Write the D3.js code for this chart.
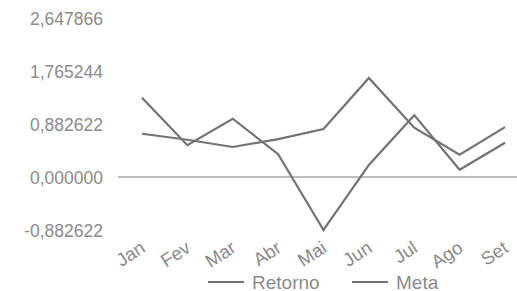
<!DOCTYPE html>
<html>
<head>
<meta charset="utf-8">
<script src="https://cdn.jsdelivr.net/npm/d3@7"></script>
<style>
  html, body { margin: 0; padding: 0; background: #ffffff; }
  svg { display: block; }
  text { font-family: "Liberation Sans", Arial, sans-serif; }
</style>
</head>
<body>
<svg id="chart" width="517" height="291"></svg>
<script>
const months = ["Jan", "Fev", "Mar", "Abr", "Mai", "Jun", "Jul", "Ago", "Set"];
const retorno = [1.32, 0.53, 0.97, 0.38, -0.882622, 0.20, 1.03, 0.12, 0.57];
const meta = [0.72, 0.62, 0.50, 0.63, 0.80, 1.65, 0.82, 0.37, 0.83];
const yTicks = [-0.882622, 0, 0.882622, 1.765244, 2.647866];
const yTickLabels = ["-0,882622", "0,000000", "0,882622", "1,765244", "2,647866"];
const seriesNames = ["Retorno", "Meta"];

const svg = d3.select("#chart");
const textColor = "#8a8a8a";
const lineColor = "#727272";

const x = d3.scalePoint().domain(months).range([142, 505]);
const y = d3.scaleLinear().domain([-0.882622, 2.647866]).range([230, 18]);

// zero line
svg.append("line")
  .attr("x1", 118).attr("x2", 517)
  .attr("y1", y(0)).attr("y2", y(0))
  .attr("stroke", "#a8a8a8").attr("stroke-width", 1.6);

// y axis labels
const yAxis = d3.axisLeft(y).tickValues(yTicks)
  .tickFormat((d, i) => yTickLabels[i]).tickSize(0).tickPadding(0);
const gy = svg.append("g").attr("transform", "translate(103,1)").call(yAxis);
gy.select(".domain").remove();
gy.selectAll("text")
  .attr("fill", textColor)
  .style("font-size", "17.5px")
  .attr("text-anchor", "end");

// x axis labels
const xAxis = d3.axisBottom(x).tickSize(0).tickPadding(0);
const gx = svg.append("g").attr("transform", "translate(0,251)").call(xAxis);
gx.select(".domain").remove();
gx.selectAll("text")
  .attr("fill", textColor)
  .style("font-size", "18.5px")
  .attr("text-anchor", "end")
  .attr("dy", "0")
  .attr("y", 0)
  .attr("transform", "translate(4,0) rotate(-33)");

// lines
const line = d3.line().x((d, i) => x(months[i])).y(d => y(d));
[retorno, meta].forEach(s => {
  svg.append("path")
    .datum(s)
    .attr("d", line)
    .attr("fill", "none")
    .attr("stroke", lineColor)
    .attr("stroke-width", 2.2)
    .attr("stroke-linejoin", "miter");
});

// legend
const legendX = [208, 352];
seriesNames.forEach((name, i) => {
  const g = svg.append("g").attr("transform", `translate(${legendX[i]},282)`);
  g.append("line").attr("x1", 0).attr("x2", 36).attr("y1", 0).attr("y2", 0)
    .attr("stroke", lineColor).attr("stroke-width", 2.2);
  g.append("text").attr("x", 44).attr("y", 6.5)
    .attr("fill", textColor)
    .style("font-size", "19px")
    .text(name);
});
</script>
</body>
</html>
